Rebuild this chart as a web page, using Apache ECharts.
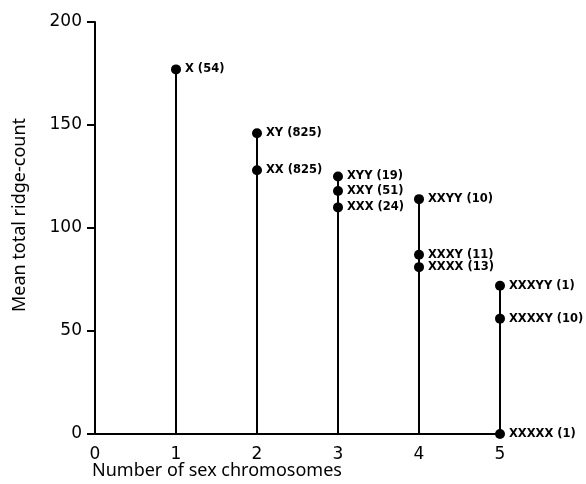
<!DOCTYPE html>
<html>
<head>
<meta charset="utf-8">
<script src="https://cdn.jsdelivr.net/npm/echarts@6/dist/echarts.min.js"></script>
<style>html,body{margin:0;padding:0;background:#fff}#c{width:586px;height:484px}</style>
</head>
<body>
<div id="c"></div>
<script>
const karyotypes = ['X','XY','XX','XYY','XXY','XXX','XXYY','XXXY','XXXX','XXXYY','XXXXY','XXXXX'];
const sampleSizes = [54,825,825,19,51,24,10,11,13,1,10,1];
const chromosomeCounts = [1,2,2,3,3,3,4,4,4,5,5,5];
const meanRidgeCounts = [177,146,128,125,118,110,114,87,81,72,56,0];
const xTickLabels = ['0','1','2','3','4','5'];
const yTickValues = [0,50,100,150,200];

const points = karyotypes.map((k,i)=>({value:[chromosomeCounts[i], meanRidgeCounts[i]], name:k + ' (' + sampleSizes[i] + ')'}));
const groups = [...new Set(chromosomeCounts)];
const stemSeries = groups.map(g=>{
  const top = Math.max(...meanRidgeCounts.filter((v,i)=>chromosomeCounts[i]===g));
  return {type:'line', data:[[g,0],[g,top]], symbol:'none', silent:true,
    lineStyle:{color:'#000', width:2}, z:1};
});

const chart = echarts.init(document.getElementById('c'), null, {renderer:'canvas'});
chart.setOption({
  animation:false,
  grid:{left:95, right:86, top:22, bottom:50, containLabel:false},
  xAxis:{type:'value', min:0, max:5, interval:1,
    axisLine:{lineStyle:{color:'#000', width:2}},
    axisTick:{show:false}, splitLine:{show:false},
    axisLabel:{color:'#000', fontSize:17, fontFamily:'DejaVu Sans', margin:12,
      formatter:v=>xTickLabels[v]}},
  yAxis:{type:'value', min:0, max:200, interval:50,
    axisLine:{show:true, lineStyle:{color:'#000', width:2}},
    axisTick:{show:true, length:8, lineStyle:{color:'#000', width:2}},
    splitLine:{show:false},
    axisLabel:{color:'#000', fontSize:17, fontFamily:'DejaVu Sans', margin:13,
      formatter:v=>yTickValues.includes(v)?String(v):''}},
  graphic:[
    {type:'text', left:92, top:462, style:{text:'Number of sex chromosomes', fill:'#000', fontSize:18, fontFamily:'Noto Sans'}},
    {type:'text', x:20, y:215, rotation:Math.PI/2, style:{text:'Mean total ridge-count', fill:'#000', fontSize:18, fontFamily:'Noto Sans', align:'center', verticalAlign:'middle'}}
  ],
  series:[...stemSeries, {type:'scatter', data:points, symbolSize:10, z:3,
    itemStyle:{color:'#000', opacity:1},
    label:{show:true, position:'right', distance:4, formatter:p=>p.name,
      color:'#000', opacity:1, fontSize:11.5, fontWeight:'bold', fontFamily:'DejaVu Sans'}}]
});
</script>
</body>
</html>
